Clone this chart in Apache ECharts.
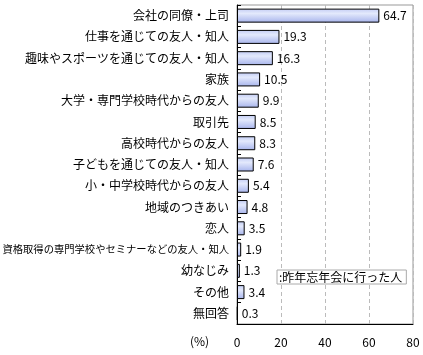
<!DOCTYPE html>
<html>
<head>
<meta charset="utf-8">
<script src="https://cdn.jsdelivr.net/npm/echarts@6/dist/echarts.min.js"></script>
<style>html,body{margin:0;padding:0;background:#fff;}#c{width:423px;height:355px;}</style>
</head>
<body>
<div id="c"></div>
<script>
var categories = ['会社の同僚・上司','仕事を通じての友人・知人','趣味やスポーツを通じての友人・知人','家族','大学・専門学校時代からの友人','取引先','高校時代からの友人','子どもを通じての友人・知人','小・中学校時代からの友人','地域のつきあい','恋人','資格取得の専門学校やセミナーなどの友人・知人','幼なじみ','その他','無回答'];
var values = [64.7, 19.3, 16.3, 10.5, 9.9, 8.5, 8.3, 7.6, 5.4, 4.8, 3.5, 1.9, 1.3, 3.4, 0.3];
var seriesName = '昨年忘年会に行った人';
var xTicks = [0, 20, 40, 60, 80];

var font = '"Noto Sans CJK JP", sans-serif';
var chart = echarts.init(document.getElementById('c'));
chart.setOption({
  animation: false,
  textStyle: {fontFamily: font},
  grid: {left: 237, top: 5, right: 10, bottom: 31, containLabel: false, outerBoundsMode: 'none',
    show: true, borderColor: '#999', borderWidth: 1, backgroundColor: 'transparent'},
  legend: {
    left: 277, top: 270, orient: 'vertical',
    backgroundColor: '#fff', borderColor: '#aaa', borderWidth: 1, borderRadius: 0,
    padding: [1, 4, 1, 2], itemWidth: 0, itemHeight: 0, icon: 'none',
    formatter: function (n) { return ':' + n; },
    textStyle: {fontSize: 12, color: '#000', fontFamily: font, padding: [0,0,0,-5]},
    data: [seriesName]
  },
  xAxis: {
    type: 'value', min: xTicks[0], max: xTicks[xTicks.length - 1], interval: 20,
    axisLine: {show: true, lineStyle: {color: '#000'}},
    axisTick: {show: false},
    axisLabel: {color: '#000', fontSize: 12, margin: 12, fontFamily: font},
    splitLine: {show: true, lineStyle: {color: '#bbb', type: [4, 3]}}
  },
  yAxis: {
    type: 'category', data: categories, inverse: true,
    axisLine: {show: true, lineStyle: {color: '#000'}},
    axisTick: {show: true, inside: true, length: 4, lineStyle: {color: '#000'}},
    axisLabel: {color: '#000', fontSize: 12, margin: 8, fontFamily: font,
      formatter: function (v) { return v.length > 20 ? '{s|' + v + '}' : v; },
      rich: {s: {fontSize: 10.3, fontFamily: font, color: '#000'}}}
  },
  graphic: [{type: 'text', left: 190, top: 335, style: {text: '(%)', fontSize: 12, fill: '#000', fontFamily: font}}],
  series: [{
    name: seriesName, type: 'bar', data: values, barWidth: 14,
    itemStyle: {
      borderColor: '#000', borderWidth: 1,
      color: new echarts.graphic.LinearGradient(0, 0, 0, 1, [
        {offset: 0, color: '#c3cdf5'},
        {offset: 0.35, color: '#e3e9fc'},
        {offset: 1, color: '#a7b4ec'}
      ])
    },
    label: {show: true, position: 'right', distance: 4, color: '#000', fontSize: 12, fontFamily: font,
      formatter: function (p) { return p.value.toFixed(1); }}
  }]
});
</script>
</body>
</html>
